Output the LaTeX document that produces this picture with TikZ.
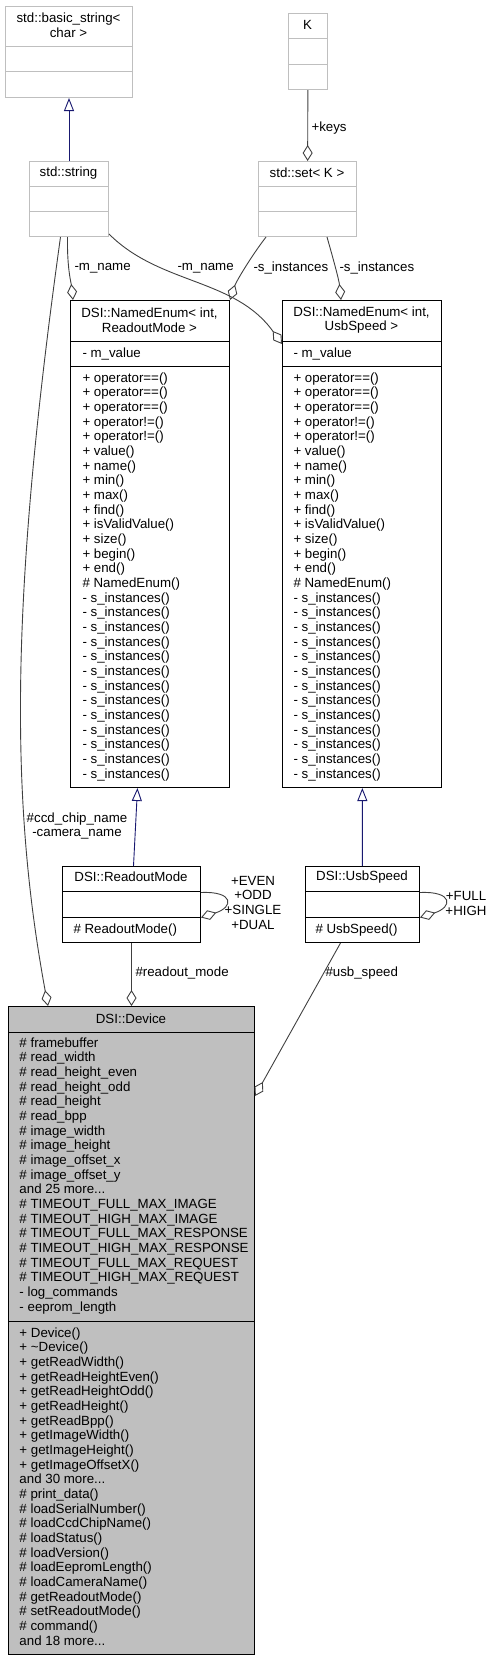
\documentclass[tikz,border=0pt]{standalone}
\usepackage{fontspec}
\setmainfont{Liberation Sans}
\usetikzlibrary{arrows.meta}
\definecolor{edgegray}{HTML}{404040}
\definecolor{boxgray}{HTML}{BFBFBF}
\definecolor{inhblue}{HTML}{191970}

\begin{document}
\begin{tikzpicture}[x=1pt,y=-1pt,line width=1pt,
                    font=\fontsize{13.3}{14.67}\selectfont]
  \tikzstyle{class}=[draw=black,anchor=north west,inner sep=0pt]
  \tikzstyle{extclass}=[class,draw=boxgray]
  \tikzstyle{title}=[inner sep=0pt,align=center]
  \tikzstyle{members}=[inner sep=0pt,align=left,anchor=north west]
  \tikzstyle{lbl}=[inner sep=0pt,align=center]
  \tikzstyle{uses}=[draw=edgegray,line width=0.9pt,
    -{Diamond[open,length=16pt,width=10pt]}]
  \tikzstyle{inherits}=[draw=inhblue,line width=0.9pt,
    -{Triangle[open,length=13pt,width=10pt]}]

  \useasboundingbox (0,0) rectangle (493,1660);

  % class boxes
  \node[extclass,minimum width=127pt,minimum height=91pt] (basicstr) at (5,6) {};
  \node[extclass,minimum width=39pt,minimum height=76pt] (K) at (288,13) {};
  \node[extclass,minimum width=79pt,minimum height=75pt] (stdstr) at (29,161) {};
  \node[extclass,minimum width=98pt,minimum height=75pt] (stdset) at (258,161) {};
  \node[class,minimum width=159pt,minimum height=487pt] (neRM) at (70,300) {};
  \node[class,minimum width=159pt,minimum height=487pt] (neUS) at (282,300) {};
  \node[class,minimum width=138pt,minimum height=76pt] (rm) at (62,866) {};
  \node[class,minimum width=114pt,minimum height=76pt] (us) at (305,866) {};
  \node[class,fill=boxgray,minimum width=246pt,minimum height=648pt] (dev) at (8,1006) {};

  \foreach \n/\a/\b in {basicstr/40pt/65pt,K/25pt/51pt,stdstr/25pt/50pt,stdset/25pt/50pt}
    \draw[boxgray] ([yshift=-\a]\n.north west) -- ([yshift=-\a]\n.north east)
                   ([yshift=-\b]\n.north west) -- ([yshift=-\b]\n.north east);
  \foreach \n/\a/\b in {neRM/41pt/66pt,neUS/41pt/66pt,rm/25pt/51pt,us/25pt/51pt,dev/26pt/315pt}
    \draw ([yshift=-\a]\n.north west) -- ([yshift=-\a]\n.north east)
          ([yshift=-\b]\n.north west) -- ([yshift=-\b]\n.north east);

  % titles
  \node[title] (basicstr-t) at (68.5,25.5) {std::basic\_string<\\char >};
  \node[title] (K-t) at (307.5,25) {K};
  \node[title] (stdstr-t) at (68.5,173) {std::string};
  \node[title] (stdset-t) at (307,173) {std::set< K >};
  \node[title] (neRM-t) at (149.5,320) {DSI::NamedEnum< int,\\ ReadoutMode >};
  \node[title] (neUS-t) at (361.5,320) {DSI::NamedEnum< int,\\ UsbSpeed >};
  \node[title] (rm-t) at (131,877) {DSI::ReadoutMode};
  \node[title] (us-t) at (362,877) {DSI::UsbSpeed};
  \node[title] (dev-t) at (131,1019) {DSI::Device};

  % members
  \node[members] (neRM-a) at (82,347) {- m\_value};
  \node[members] (neRM-m) at (82,372) {+ operator==()\\
    + operator==()\\
    + operator==()\\
    + operator!=()\\
    + operator!=()\\
    + value()\\
    + name()\\
    + min()\\
    + max()\\
    + find()\\
    + isValidValue()\\
    + size()\\
    + begin()\\
    + end()\\
    \# NamedEnum()\\
    - s\_instances()\\
    - s\_instances()\\
    - s\_instances()\\
    - s\_instances()\\
    - s\_instances()\\
    - s\_instances()\\
    - s\_instances()\\
    - s\_instances()\\
    - s\_instances()\\
    - s\_instances()\\
    - s\_instances()\\
    - s\_instances()\\
    - s\_instances()};
  \node[members] (neUS-a) at (293,347) {- m\_value};
  \node[members] (neUS-m) at (293,372) {+ operator==()\\
    + operator==()\\
    + operator==()\\
    + operator!=()\\
    + operator!=()\\
    + value()\\
    + name()\\
    + min()\\
    + max()\\
    + find()\\
    + isValidValue()\\
    + size()\\
    + begin()\\
    + end()\\
    \# NamedEnum()\\
    - s\_instances()\\
    - s\_instances()\\
    - s\_instances()\\
    - s\_instances()\\
    - s\_instances()\\
    - s\_instances()\\
    - s\_instances()\\
    - s\_instances()\\
    - s\_instances()\\
    - s\_instances()\\
    - s\_instances()\\
    - s\_instances()\\
    - s\_instances()};
  \node[members] (rm-m) at (73,923) {\# ReadoutMode()};
  \node[members] (us-m) at (315,923) {\# UsbSpeed()};
  \node[members] (dev-a) at (19,1037) {\# framebuffer\\
    \# read\_width\\
    \# read\_height\_even\\
    \# read\_height\_odd\\
    \# read\_height\\
    \# read\_bpp\\
    \# image\_width\\
    \# image\_height\\
    \# image\_offset\_x\\
    \# image\_offset\_y\\
    and 25 more...\\
    \# TIMEOUT\_FULL\_MAX\_IMAGE\\
    \# TIMEOUT\_HIGH\_MAX\_IMAGE\\
    \# TIMEOUT\_FULL\_MAX\_RESPONSE\\
    \# TIMEOUT\_HIGH\_MAX\_RESPONSE\\
    \# TIMEOUT\_FULL\_MAX\_REQUEST\\
    \# TIMEOUT\_HIGH\_MAX\_REQUEST\\
    - log\_commands\\
    - eeprom\_length};
  \node[members] (dev-m) at (19,1327) {+ Device()\\
    + \textasciitilde Device()\\
    + getReadWidth()\\
    + getReadHeightEven()\\
    + getReadHeightOdd()\\
    + getReadHeight()\\
    + getReadBpp()\\
    + getImageWidth()\\
    + getImageHeight()\\
    + getImageOffsetX()\\
    and 30 more...\\
    \# print\_data()\\
    \# loadSerialNumber()\\
    \# loadCcdChipName()\\
    \# loadStatus()\\
    \# loadVersion()\\
    \# loadEepromLength()\\
    \# loadCameraName()\\
    \# getReadoutMode()\\
    \# setReadoutMode()\\
    \# command()\\
    and 18 more...};

  % connectors
  \draw[inherits] (stdstr) -- (basicstr);
  \draw[uses] (K) -- (stdset);
  \draw[uses] ([xshift=-1.5pt]stdstr.south) .. controls (67,268) and (71,282) .. ([xshift=3pt]neRM.north west);
  \draw[uses] ([yshift=3pt]stdstr.south east) .. controls (160,285) and (235,278) .. ([yshift=-44pt]neUS.north west);
  \draw[uses] ([xshift=8pt]stdset.south west) .. controls (250,258) and (236,282) .. (neRM.north east);
  \draw[uses] ([xshift=-30pt]stdset.south east) .. controls (333,258) and (339,280) .. ([xshift=59pt]neUS.north west);
  \draw[uses] ([xshift=-8.5pt]stdstr.south) .. controls (10,600) and (10,800) .. ([xshift=40pt]dev.north west);
  \draw[inherits] ([xshift=2pt]rm.north) -- ([xshift=-12.5pt]neRM.south);
  \draw[inherits] (us) -- (neUS);
  \draw[uses] ([yshift=12pt]rm.east) .. controls (234,891) and (234,907) .. ([yshift=-13pt]rm.east);
  \draw[uses] ([yshift=12pt]us.east) .. controls (453,891) and (453,907) .. ([yshift=-13pt]us.east);
  \draw[uses] (rm) -- (dev);
  \draw[uses] ([xshift=-22pt]us.south) -- ([yshift=-90pt]dev.north east);

  % connector labels
  \node[lbl,anchor=west] (keys-l) at (311,128) {+keys};
  \node[lbl,anchor=west] (mname1-l) at (74,268) {-m\_name};
  \node[lbl,anchor=west] (mname2-l) at (177,268) {-m\_name};
  \node[lbl,anchor=west] (sinst1-l) at (253,268) {-s\_instances};
  \node[lbl,anchor=west] (sinst2-l) at (339,268) {-s\_instances};
  \node[lbl] (ccd-l) at (77,826) {\#ccd\_chip\_name\\-camera\_name};
  \node[lbl] (rmself-l) at (253,902.5) {+EVEN\\+ODD\\+SINGLE\\+DUAL};
  \node[lbl] (usself-l) at (466,903.5) {+FULL\\+HIGH};
  \node[lbl,anchor=west] (rmode-l) at (135,973) {\#readout\_mode};
  \node[lbl,anchor=west] (usb-l) at (325,973) {\#usb\_speed};
\end{tikzpicture}
\end{document}
